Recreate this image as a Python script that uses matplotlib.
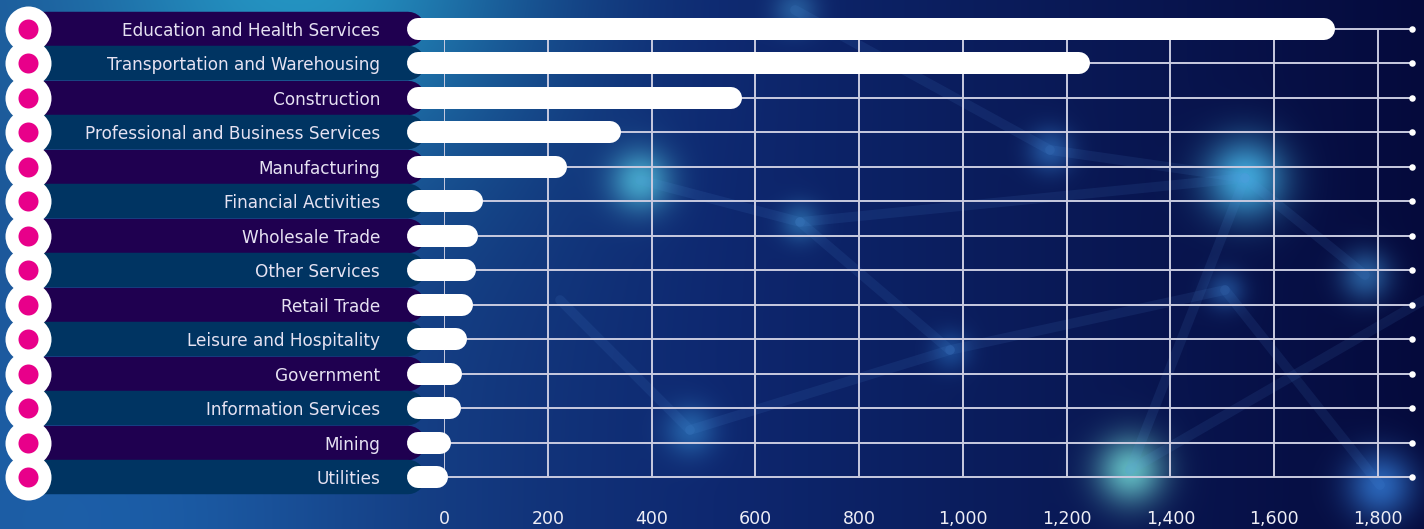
import numpy as np
import matplotlib
matplotlib.use("Agg")
import matplotlib.pyplot as plt

categories = [
    "Education and Health Services",
    "Transportation and Warehousing",
    "Construction",
    "Professional and Business Services",
    "Manufacturing",
    "Financial Activities",
    "Wholesale Trade",
    "Other Services",
    "Retail Trade",
    "Leisure and Hospitality",
    "Government",
    "Information Services",
    "Mining",
    "Utilities",
]
values = [1717, 1245, 574, 341, 237, 75, 66, 62, 56, 44, 35, 33, 13, 8]
xticks = [0, 200, 400, 600, 800, 1000, 1200, 1400, 1600, 1800]

W, H = 1424, 529
fig = plt.figure(figsize=(W / 100, H / 100), dpi=100)

# ---------------- background ----------------
bg = fig.add_axes([0, 0, 1, 1])
bg.axis("off")
yy, xx = np.mgrid[0:H, 0:W].astype(float)
t = np.clip(xx / W, 0, 1)
left = np.array([28, 84, 150]) / 255
mid = np.array([14, 40, 112]) / 255
right = np.array([5, 10, 60]) / 255
w1 = np.clip(1 - t / 0.5, 0, 1)[..., None]
w2 = np.clip(1 - np.abs(t - 0.5) / 0.5, 0, 1)[..., None]
w3 = np.clip((t - 0.5) / 0.5, 0, 1)[..., None]
img = w1 * left + w2 * mid + w3 * right


def blob(cx, cy, s, col, a):
    global img
    g = np.exp(-((xx - cx) ** 2 + (yy - cy) ** 2) / (2 * s ** 2))[..., None]
    img = img * (1 - a * g) + np.array(col) / 255 * a * g


blob(300, -40, 160, (40, 170, 210), 0.8)
blob(120, 520, 160, (30, 110, 190), 0.5)
blob(640, 180, 22, (80, 190, 220), 0.8)
blob(1245, 178, 28, (70, 180, 230), 0.9)
blob(1130, 470, 24, (110, 210, 210), 0.85)
blob(1380, 485, 24, (50, 120, 210), 0.8)
blob(690, 430, 18, (50, 130, 200), 0.6)
blob(1050, 150, 16, (50, 120, 200), 0.6)
blob(1365, 275, 18, (60, 140, 210), 0.6)
blob(800, 222, 14, (60, 150, 210), 0.5)
blob(1225, 290, 14, (50, 120, 200), 0.5)
blob(950, 350, 14, (40, 110, 190), 0.5)
blob(795, 10, 16, (60, 140, 200), 0.5)
img = np.clip(img, 0, 1)
bg.imshow(img, extent=[0, W, H, 0], aspect="auto", interpolation="bilinear")
bg.set_xlim(0, W)
bg.set_ylim(H, 0)
net = [((640, 180), (800, 222)), ((800, 222), (1245, 178)), ((1245, 178), (1365, 275)),
       ((1130, 470), (1245, 178)), ((690, 430), (950, 350)), ((950, 350), (1225, 290)),
       ((1225, 290), (1380, 485)), ((1050, 150), (1245, 178)), ((800, 222), (950, 350)),
       ((1130, 470), (1424, 300)), ((795, 10), (1050, 150)), ((560, 300), (690, 430))]
for (a, b) in net:
    bg.plot([a[0], b[0]], [a[1], b[1]], color=(0.35, 0.6, 0.9), lw=7, alpha=0.10,
            solid_capstyle="round")

# ---------------- main axes ----------------
x0_px, x1800_px, xend_px = 444, 1378, 1412
row0_px, row13_px = 29, 477
pitch = (row13_px - row0_px) / 13
upp = 1800 / (x1800_px - x0_px)  # data units per pixel
top_px = row0_px - pitch / 2
bot_px = row13_px + pitch / 2
ax = fig.add_axes([x0_px / W, (H - bot_px) / H, (xend_px - x0_px) / W, (bot_px - top_px) / H])
ax.set_facecolor("none")
xmax = (xend_px - x0_px) * upp
ax.set_xlim(0, xmax)
n = len(categories)
ax.set_ylim(n - 0.5, -0.5)
for s in ax.spines.values():
    s.set_visible(False)

rows = np.arange(n)
grid_col = "#c9cbe0"
ax.hlines(rows, 0, xmax, color=grid_col, lw=1.4, zorder=1)
ax.scatter(np.full(n, xmax), rows, s=22, color="white", zorder=2, clip_on=False, linewidths=0)
ax.vlines(xticks, 0, n - 1, color=grid_col, lw=1.4, zorder=1)

px2pt = 72 / 100
# label bands
band_cols = ["#1f0050", "#003462"]
for i in rows:
    c = band_cols[i % 2]
    ax.plot([(40 - x0_px) * upp, (425 - pitch / 2 - x0_px) * upp], [i, i], color=c,
            lw=pitch * px2pt, solid_capstyle="round", clip_on=False, zorder=3)

# bars (round-capped)
bar_h = 22
cap = bar_h / 2
start = (407 + cap - x0_px) * upp
for i, v in enumerate(values):
    ax.plot([start, v - cap * upp], [i, i], color="white", lw=bar_h * px2pt,
            solid_capstyle="round", clip_on=False, zorder=4)

# circles with magenta dots
cx = (28 - x0_px) * upp
ax.scatter(np.full(n, cx), rows, s=(46 * px2pt) ** 2, color="white", zorder=5,
           clip_on=False, linewidths=0)
ax.scatter(np.full(n, cx), rows, s=(20 * px2pt) ** 2, color="#e8008a", zorder=6,
           clip_on=False, linewidths=0)

ax.set_yticks(rows)
ax.set_yticklabels(categories)
ax.tick_params(axis="y", length=0, pad=(x0_px - 380) * px2pt, labelsize=12.2,
               labelcolor="#e6e2f2")
ax.yaxis.set_zorder(10)
ax.xaxis.set_zorder(10)
ax.set_xticks(xticks)
ax.set_xticklabels([f"{x:,}" for x in xticks])
ax.tick_params(axis="x", length=0, pad=11, labelsize=12.5, labelcolor="#eeeef6")

fig.savefig("out.png", dpi=100)
